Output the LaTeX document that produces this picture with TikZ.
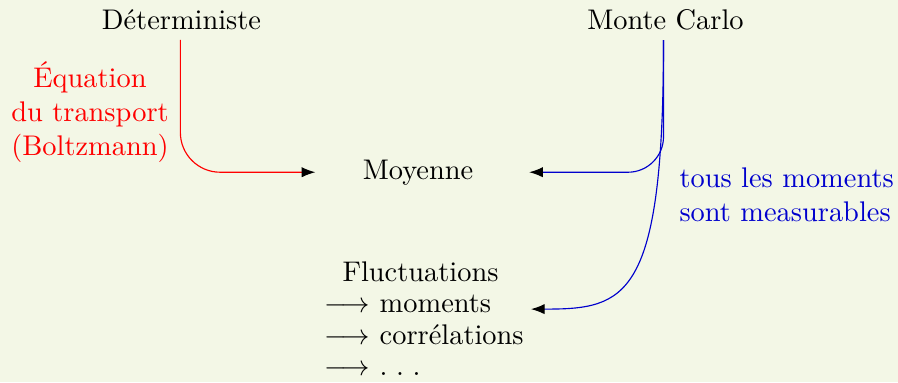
\documentclass[tikz,border=0pt]{standalone}
\usetikzlibrary{arrows.meta}
\definecolor{bgcol}{RGB}{243,247,230}
\definecolor{myblue}{RGB}{0,0,205}
\definecolor{myred}{RGB}{255,0,0}
\begin{document}
\begin{tikzpicture}[x=0.3521pt,y=-0.3521pt,
  conn/.style={line width=0.4pt,-{Latex[black]}},
  redconn/.style={conn,draw=myred},
  blueconn/.style={conn,draw=myblue},
  lbl/.style={inner sep=3.33pt}]
\fill[bgcol] (0,0) rectangle (898,382);
\useasboundingbox (0,0) rectangle (898,382);

\node[lbl,anchor=base] (det) at (181.5,29.5) {Déterministe};
\node[lbl,anchor=base] (mc) at (665.5,29.5) {Monte Carlo};
\node[lbl,anchor=center,align=center,text=myred] (eq) at (90,112)
  {Équation\\du transport\\(Boltzmann)};
\node[lbl,anchor=base,inner xsep=16.5pt] (moy) at (418,179) {Moyenne};
\node[lbl,anchor=west,align=left,text=myblue] (tous) at (669.5,194.5)
  {tous les moments\\sont measurables};
\node[lbl,anchor=base] (fluc) at (420.5,281) {Fluctuations};
\node[lbl,anchor=base west] (mom) at (314.5,312) {$\longrightarrow$ moments};
\node[lbl,anchor=base west] (cor) at (314.5,344) {$\longrightarrow$ corrélations};
\node[lbl,anchor=base west] (dots) at (314.5,375) {$\longrightarrow$ .\kern.3em.\kern.3em.};

\draw[redconn,rounded corners=14pt] ([xshift=-0.4pt]det.south) |- (moy.west);
\draw[blueconn,rounded corners=12.5pt] ([xshift=-0.7pt]mc.south) |- ([xshift=3pt]moy.east);
\draw[blueconn] ([xshift=-0.7pt]mc.south) .. controls +(0,260) and +(95,0) .. ([xshift=10.5pt,yshift=-2pt]mom.east);
\end{tikzpicture}
\end{document}
